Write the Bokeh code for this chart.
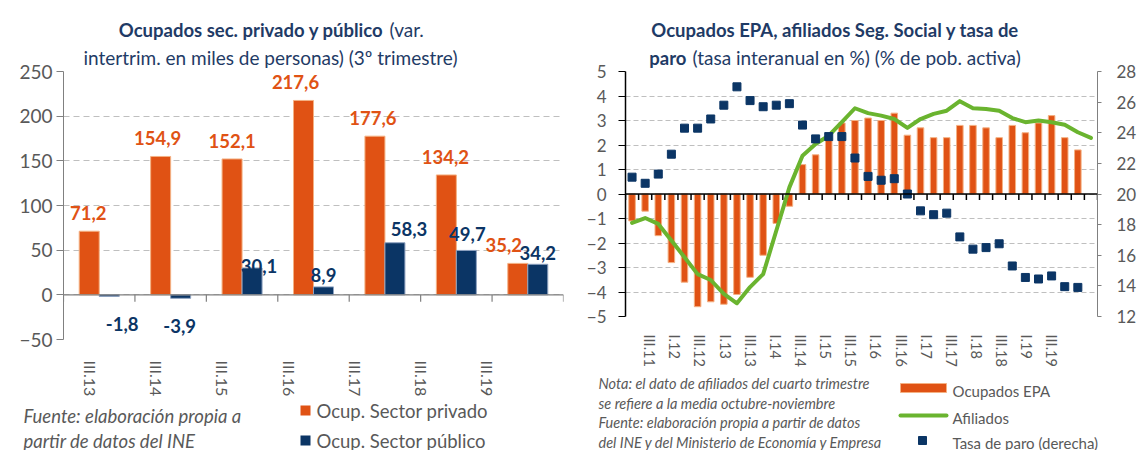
import math
from bokeh.plotting import figure
from bokeh.models import Range1d, LinearAxis, FixedTicker, Span, ColumnDataSource
from bokeh.layouts import row, column
from bokeh.core.properties import value
from bokeh.embed import file_html
from bokeh.resources import INLINE

# ---------------- data ----------------
left_cats = ["III.13", "III.14", "III.15", "III.16", "III.17", "III.18", "III.19"]
privado = [71.2, 154.9, 152.1, 217.6, 177.6, 134.2, 35.2]
publico = [-1.8, -3.9, 30.1, 8.9, 58.3, 49.7, 34.2]

quarters = ["I.11", "II.11", "III.11", "IV.11", "I.12", "II.12", "III.12", "IV.12",
            "I.13", "II.13", "III.13", "IV.13", "I.14", "II.14", "III.14", "IV.14",
            "I.15", "II.15", "III.15", "IV.15", "I.16", "II.16", "III.16", "IV.16",
            "I.17", "II.17", "III.17", "IV.17", "I.18", "II.18", "III.18", "IV.18",
            "I.19", "II.19", "III.19", "IV.19"]
ocupados_epa = [-1.1, -0.7, -1.7, -2.8, -3.6, -4.6, -4.4, -4.5, -4.1, -3.4, -2.5, -1.2,
                -0.5, 1.2, 1.6, 2.2, 2.9, 3.0, 3.1, 3.0, 3.3, 2.4, 2.7, 2.3,
                2.3, 2.8, 2.8, 2.7, 2.3, 2.8, 2.5, 2.9, 3.2, 2.3, 1.8]
afiliados = [-1.18, -0.98, -1.22, -1.9, -2.58, -3.27, -3.51, -4.08, -4.46, -3.8, -3.27, -1.5,
             0.27, 1.56, 2.04, 2.38, 2.93, 3.5, 3.3, 3.2, 3.06, 2.7, 3.06, 3.27,
             3.4, 3.79, 3.5, 3.47, 3.4, 3.1, 2.93, 3.0, 2.93, 2.83, 2.52, 2.29]
tasa_paro = [21.1, 20.7, 21.3, 22.6, 24.3, 24.3, 24.9, 25.8, 27.0, 26.1, 25.7, 25.8,
             25.9, 24.5, 23.6, 23.75, 23.75, 22.35, 21.15, 20.9, 21.0, 20.0, 18.9, 18.65,
             18.75, 17.2, 16.4, 16.5, 16.75, 15.3, 14.55, 14.45, 14.65, 13.95, 13.9]

left_title_bold = "Ocupados sec. privado y público"
left_title_rest = "(var."
left_title_2 = "intertrim. en miles de personas) (3º trimestre)"
left_source = ["Fuente: elaboración propia a", "partir de datos del INE"]
left_legend = ["Ocup. Sector privado", "Ocup. Sector público"]
right_title_1 = "Ocupados  EPA, afiliados Seg. Social y tasa de"
right_title_bold = "paro"
right_title_rest = "(tasa interanual en %) (% de pob. activa)"
right_notes = ["Nota: el dato de afiliados del cuarto trimestre",
               "se refiere  a la media  octubre-noviembre",
               "Fuente:  elaboración propia a partir de datos",
               "del INE y del Ministerio  de Economía y Empresa"]
right_legend = ["Ocupados EPA", "Afiliados", "Tasa de paro (derecha)"]

# ---------------- style ----------------
ORANGE = "#E05214"
NAVY = "#0B3565"
GREEN = "#6AB42F"
TITLE = "#1F3B66"
GRAY_TXT = "#595959"
GRID = "#BFBFBF"
FONT = "Lato"
T_BOLD = "18.5px"
T_NORM = "19px"


def fmt(v):
    return f"{v:.1f}".replace(".", ",")


def no_align(f):
    try:
        f.frame_align = False
    except Exception:
        pass


def text_fig(x0, y0, w, h, margin=None):
    """A transparent figure whose frame is the whole canvas, in page pixel coordinates."""
    f = figure(width=w, height=h, x_range=Range1d(x0, x0 + w), y_range=Range1d(y0 + h, y0),
               output_backend="svg", toolbar_location=None, x_axis_type=None, y_axis_type=None,
               min_border=0, min_border_left=0, min_border_right=0, min_border_top=0,
               min_border_bottom=0)
    f.outline_line_color = None
    f.background_fill_alpha = 0
    f.border_fill_alpha = 0
    if margin is not None:
        f.margin = margin
    no_align(f)
    return f


def txt(f, x, y, s, size="17px", style="normal", color=TITLE, align="left"):
    f.text(x=[x], y=[y], text=[s], text_font=value(FONT), text_font_size=size,
           text_font_style=style, text_color=color, text_align=align, text_baseline="middle")


# ================= LEFT =================
tL = text_fig(0, 0, 570, 70)
txt(tL, 383, 29, left_title_bold, size=T_BOLD, style="bold", align="right")
txt(tL, 389, 29, left_title_rest, size=T_NORM)
txt(tL, 270, 57, left_title_2, size=T_NORM, align="center")

n = len(left_cats)
cL = figure(width=570, height=392, x_range=Range1d(0, n), y_range=Range1d(-50, 250),
            output_backend="svg", toolbar_location=None, x_axis_location=None,
            min_border_left=63, min_border_right=7, min_border_top=13, min_border_bottom=111)
cL.margin = (-12, 0, 0, 0)
cL.border_fill_alpha = 0
no_align(cL)
cL.outline_line_color = None
cL.xgrid.visible = False
cL.ygrid.grid_line_color = GRID
cL.ygrid.grid_line_dash = "6 4"
cL.ygrid.ticker = FixedTicker(ticks=[-50, 0, 50, 100, 150, 200, 250])
ya = cL.yaxis[0]
ya.ticker = FixedTicker(ticks=[-50, 0, 50, 100, 150, 200, 250])
ya.axis_line_color = "#808080"
ya.major_tick_line_color = "#808080"
ya.major_tick_out = 7
ya.major_tick_in = 0
ya.minor_tick_line_color = None
ya.major_label_standoff = 4
ya.major_label_text_font = FONT
ya.major_label_text_font_size = "19px"
ya.major_label_text_color = GRAY_TXT

cL.extra_x_ranges = {"lab": Range1d(-0.408, 7.145)}
xl = LinearAxis(x_range_name="lab", ticker=FixedTicker(ticks=list(range(n))),
                major_label_overrides={i: c for i, c in enumerate(left_cats)})
xl.axis_line_color = None
xl.major_tick_line_color = None
xl.minor_tick_line_color = None
xl.major_label_standoff = 15
xl.major_label_orientation = -math.pi / 2
xl.major_label_text_font = FONT
xl.major_label_text_font_size = "16px"
xl.major_label_text_color = GRAY_TXT
cL.add_layout(xl, "below")

srcL = ColumnDataSource(dict(
    xo=[i + 0.5 - 0.14 for i in range(n)],
    xb=[i + 0.5 + 0.14 for i in range(n)],
    priv=privado, pub=publico,
    lp=[fmt(v) for v in privado], lb=[fmt(v) for v in publico],
    dxo=[-1, -3, 0, -8, -2, -1, -14], dyo=[-18] * n,
    dxb=[13, -1, 7, 0, 14, 1, 0], dyb=[28, 28, -2, -12, -14, -16, -11],
))
cL.vbar(x="xo", top="priv", bottom=0, width=0.28, source=srcL,
        fill_color=ORANGE, line_color="#F4B183", line_width=1)
cL.vbar(x="xb", top="pub", bottom=0, width=0.28, source=srcL,
        fill_color=NAVY, line_color="#8EA2C0", line_width=1)
cL.add_layout(Span(location=0, dimension="width", line_color="#808080", line_width=1.2))
cL.segment(x0=list(range(n + 1)), y0=[0] * (n + 1), x1=list(range(n + 1)),
           y1=[-7.8] * (n + 1), line_color="#808080", line_width=1.2)
cL.text(x="xo", y="priv", text="lp", x_offset="dxo", y_offset="dyo", source=srcL,
        text_align="center", text_baseline="middle", text_font=value(FONT),
        text_font_style="bold", text_font_size="18.5px", text_color=ORANGE)
cL.text(x="xb", y="pub", text="lb", x_offset="dxb", y_offset="dyb", source=srcL,
        text_align="center", text_baseline="middle", text_font=value(FONT),
        text_font_style="bold", text_font_size="18.5px", text_color=NAVY)

bL = text_fig(0, 400, 570, 50, margin=(-50, 0, 0, 0))
txt(bL, 23, 415, left_source[0], size="18.5px", style="italic", color=GRAY_TXT)
txt(bL, 23, 440, left_source[1], size="18.5px", style="italic", color=GRAY_TXT)
bL.rect(x=[305, 305], y=[410, 440], width=10, height=10, fill_color=[ORANGE, NAVY],
        line_color=None)
txt(bL, 316, 410, left_legend[0], size="18.5px", color=GRAY_TXT)
txt(bL, 316, 440, left_legend[1], size="18.5px", color=GRAY_TXT)

# ================= RIGHT =================
tR = text_fig(570, 0, 569, 70)
txt(tR, 837, 29, right_title_1, size=T_BOLD, style="bold", align="center")
txt(tR, 686, 57, right_title_bold, size=T_BOLD, style="bold", align="right")
txt(tR, 692, 57, right_title_rest, size=T_NORM)

m = len(quarters)
cR = figure(width=569, height=392, x_range=Range1d(0, m), y_range=Range1d(-5, 5),
            output_backend="svg", toolbar_location=None, x_axis_location=None,
            min_border_left=55, min_border_right=41, min_border_top=13, min_border_bottom=134)
cR.margin = (-12, 0, 0, 0)
cR.border_fill_alpha = 0
no_align(cR)
cR.outline_line_color = None
cR.xgrid.visible = False
cR.ygrid.grid_line_color = GRID
cR.ygrid.grid_line_dash = "5 3"
cR.ygrid.ticker = FixedTicker(ticks=list(range(-5, 6)))
yl = cR.yaxis[0]
yl.ticker = FixedTicker(ticks=list(range(-5, 6)))
yl.axis_line_color = "black"
yl.axis_line_width = 1.5
yl.major_tick_line_color = "black"
yl.major_tick_out = 7
yl.major_tick_in = 0
yl.minor_tick_line_color = None
yl.major_label_standoff = 12
yl.major_label_text_font = FONT
yl.major_label_text_font_size = "17px"
yl.major_label_text_color = GRAY_TXT

cR.extra_y_ranges = {"paro": Range1d(12, 28)}
yr = LinearAxis(y_range_name="paro", ticker=FixedTicker(ticks=list(range(12, 29, 2))))
yr.axis_line_color = "#808080"
yr.major_tick_line_color = "#808080"
yr.major_tick_out = 4
yr.major_tick_in = 0
yr.minor_tick_line_color = None
yr.major_label_standoff = 15
yr.major_label_text_font = FONT
yr.major_label_text_font_size = "17px"
yr.major_label_text_color = GRAY_TXT
cR.add_layout(yr, "right")

cR.extra_x_ranges = {"lab": Range1d(0.079, 37.62)}
xr = LinearAxis(x_range_name="lab", ticker=FixedTicker(ticks=list(range(0, m, 2))),
                major_label_overrides={i: quarters[i] for i in range(0, m, 2)})
xr.axis_line_color = None
xr.major_tick_line_color = None
xr.minor_tick_line_color = None
xr.major_label_standoff = 12
xr.major_label_orientation = -math.pi / 2
xr.major_label_text_font = FONT
xr.major_label_text_font_size = "14.5px"
xr.major_label_text_color = GRAY_TXT
cR.add_layout(xr, "below")

srcB = ColumnDataSource(dict(x=[i + 0.5 for i in range(len(ocupados_epa))], y=ocupados_epa))
srcA = ColumnDataSource(dict(x=[i + 0.5 for i in range(len(afiliados))], y=afiliados))
srcP = ColumnDataSource(dict(x=[i + 0.5 for i in range(len(tasa_paro))], y=tasa_paro))

cR.vbar(x="x", top="y", bottom=0, width=0.5, source=srcB,
        fill_color=ORANGE, line_color="#F4B183", line_width=1)
cR.add_layout(Span(location=0, dimension="width", line_color="black", line_width=1.5))
cR.segment(x0=list(range(m + 1)), y0=[0] * (m + 1), x1=list(range(m + 1)),
           y1=[-0.245] * (m + 1), line_color="black", line_width=1.5)
cR.line(x="x", y="y", source=srcA, line_color=GREEN, line_width=4,
        line_join="round", line_cap="round")
cR.scatter(x="x", y="y", source=srcP, y_range_name="paro", marker="square",
           size=8, fill_color=NAVY, line_color=NAVY)

bR = text_fig(570, 372, 569, 78, margin=(-78, 0, 0, 0))
for k, t in enumerate(right_notes):
    txt(bR, 598, 383 + 19.5 * k, t, size="14.5px", style="italic", color=GRAY_TXT)
bR.rect(x=[923], y=[387.5], width=46, height=9, fill_color=ORANGE, line_color="#F4B183")
bR.line(x=[900, 946], y=[415, 415], line_color=GREEN, line_width=4, line_cap="round")
bR.scatter(x=[922], y=[440], marker="square", size=8, fill_color=NAVY, line_color=NAVY)
txt(bR, 952, 390, right_legend[0], size="15px", color=GRAY_TXT)
txt(bR, 952, 417, right_legend[1], size="15px", color=GRAY_TXT)
txt(bR, 952, 442, right_legend[2], size="15px", color=GRAY_TXT)

layout = row(column(tL, cL, bL), column(tR, cR, bR))
open("out.html", "w").write(file_html(layout, INLINE))
